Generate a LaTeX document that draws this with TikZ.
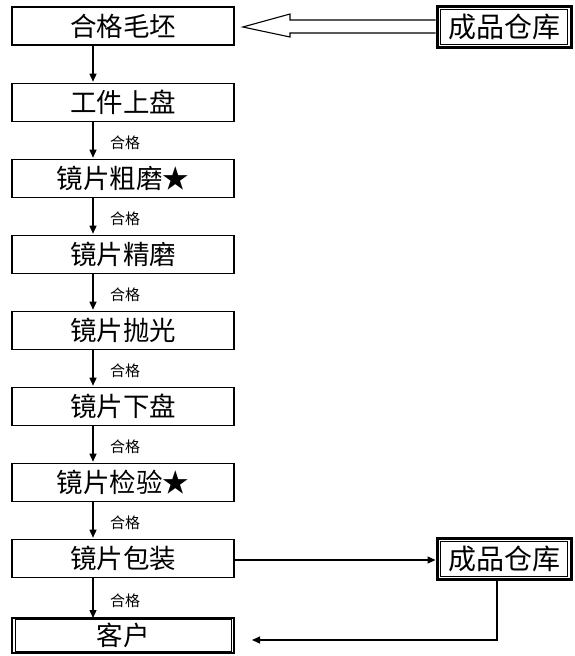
\documentclass[tikz,border=0pt]{standalone}
\usepackage{fontspec}
\setmainfont{Noto Sans CJK SC}
\usetikzlibrary{calc,arrows.meta}
\begin{document}
\begin{tikzpicture}[x=1pt,y=-1pt,
  stepbox/.style={draw,line width=1.6pt,minimum width=222pt,minimum height=38pt,inner sep=0pt,font=\fontsize{26.5}{26.5}\selectfont},
  storebox/.style={draw,line width=1pt,minimum width=127pt,minimum height=35pt,inner sep=0pt,font=\fontsize{28}{28}\selectfont},
  custbox/.style={draw,line width=1pt,minimum width=216pt,minimum height=32pt,inner sep=0pt,font=\fontsize{26.5}{26.5}\selectfont},
  flow/.style={line width=1.3pt,-{Triangle[length=8pt,width=7pt]}},
  lbl/.style={font=\fontsize{15}{15}\selectfont,anchor=west,inner sep=0pt}]
\useasboundingbox (0,0) rectangle (574,656);
\fill[white] (0,0) rectangle (574,656);
\node[stepbox] (b1) at (123,26) {合格毛坯};
\node[stepbox] (b2) at (123,102.5) {工件上盘};
\node[stepbox] (b3) at (123,178.5) {镜片粗磨★};
\node[stepbox] (b4) at (123,254.5) {镜片精磨};
\node[stepbox] (b5) at (123,330.5) {镜片抛光};
\node[stepbox] (b6) at (123,406.5) {镜片下盘};
\node[stepbox] (b7) at (123,482.5) {镜片检验★};
\node[stepbox] (b8) at (123,558.5) {镜片包装};
\node[custbox] (b9) at (123,635.5) {客户};
\draw[line width=2pt] (12,618) rectangle (234,653);
\node[storebox] (s1) at (504,26.5) {成品仓库};
\draw[line width=3pt] (437,6) rectangle (571,47);
\node[storebox] (s2) at (504,559) {成品仓库};
\draw[line width=3pt] (437,538.5) rectangle (571,579.5);
\coordinate (s1w) at (435.5,27);
\coordinate (s2w) at (435.5,560);
\coordinate (s2b) at (497,581);
% hollow arrow
\draw[line width=1.1pt,fill=white] (s1w |- 0,20) -- (290,20) -- (290,14) -- ($(b1.east)+(8,1)$) -- (290,37) -- (290,33) -- (s1w |- 0,33);
% vertical flow
\foreach \a/\b in {b1/b2,b2/b3,b3/b4,b4/b5,b5/b6,b6/b7,b7/b8,b8/b9}{
  \draw[flow] ($(\a.south)+(-30,0)$) -- ($(\b.north)+(-30,-1)$);
}
\foreach \a/\b in {b2/b3,b3/b4,b4/b5,b5/b6,b6/b7,b7/b8,b8/b9}{
  \node[lbl] at ($(\a.south)!0.55!(\b.north)+(-13,0)$) {合格};
}
\draw[flow] (b8.east |- s2w) -- (s2w);
\draw[flow] (s2b) -- (497,640) -- (252,640);
\end{tikzpicture}
\end{document}
